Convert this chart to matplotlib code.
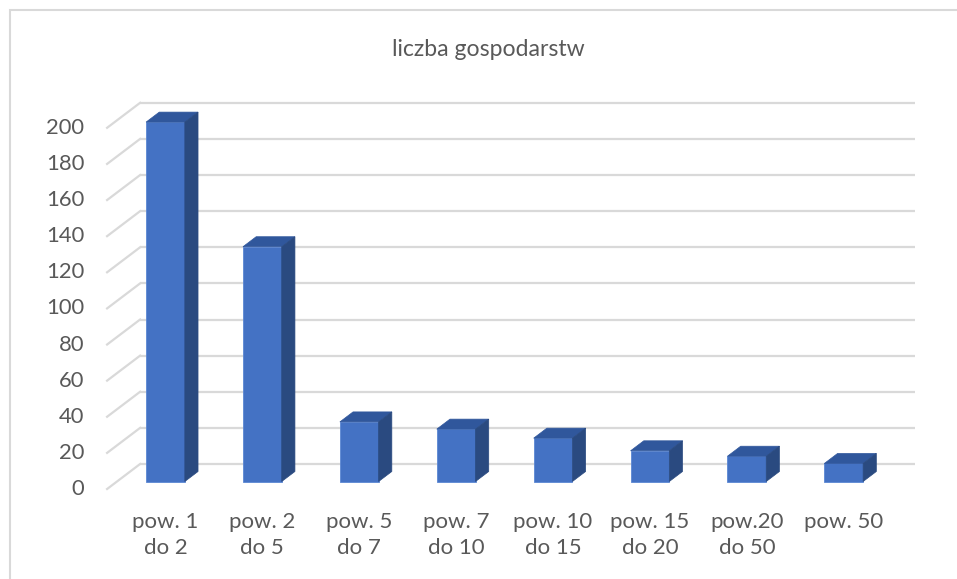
import matplotlib
matplotlib.use('Agg')
import matplotlib.pyplot as plt
from matplotlib.patches import Polygon, Rectangle
import numpy as np

# data
categories = ['pow. 1\ndo 2', 'pow. 2\ndo 5', 'pow. 5\ndo 7', 'pow. 7\ndo 10',
              'pow. 10\ndo 15', 'pow. 15\ndo 20', 'pow.20\ndo 50', 'pow. 50']
values = [199, 130, 33, 29, 24, 17, 14, 10]
yticks = [0, 20, 40, 60, 80, 100, 120, 140, 160, 180, 200]
title = 'liczba gospodarstw'

plt.rcParams['font.family'] = ['Lato', 'DejaVu Sans']

W, H = 957, 579
fig = plt.figure(figsize=(W / 100, H / 100), dpi=100)
ax = fig.add_axes([0, 0, 1, 1])

# pixel scale of the fake 3d chart (front plane of the bars)
px_cat = 96.9
px_val = 1.806
x0_px = 117.0      # left edge of first category on bar front plane
y0_px = 481.5      # value 0 on bar front plane (from top)
ax.set_xlim(-0.5 - x0_px / px_cat, -0.5 + (W - x0_px) / px_cat)
ax.set_ylim((y0_px - H) / px_val, y0_px / px_val)
ax.axis('off')

# depth of the floor, bars sit in the middle 40%
dx_full = 33 / px_cat
dy_full = 25 / px_val
dx_back, dy_back = 0.7 * dx_full, 0.7 * dy_full
dx_front, dy_front = -0.3 * dx_full, -0.3 * dy_full
bdx, bdy = 0.4 * dx_full, 0.4 * dy_full

n = len(categories)
grid_c = '#d9d9d9'
text_c = '#595959'

# back wall gridlines + side wall diagonals
for v in yticks:
    ax.plot([-0.5 + dx_back, n - 0.5 + dx_back], [v + dy_back, v + dy_back],
            color=grid_c, lw=1.6, zorder=1, solid_capstyle='butt')
    ax.plot([-0.5 + dx_front, -0.5 + dx_back], [v + dy_front, v + dy_back],
            color=grid_c, lw=1.6, zorder=1)
    ax.text(-0.5 + dx_front - 23 / px_cat, v + dy_front, str(v),
            ha='right', va='center', fontsize=15.8, color=text_c)

# bars
x = np.arange(n)
w = 0.4
ax.bar(x, values, width=w, color='#4472C4', edgecolor='#5b87d3', lw=0.6, zorder=3)
for xi, v in zip(x, values):
    l, r = xi - w / 2, xi + w / 2
    top = Polygon([[l, v], [r, v], [r + bdx, v + bdy], [l + bdx, v + bdy]],
                  closed=True, facecolor='#30579c', edgecolor='#30579c', lw=0.5, zorder=3)
    side = Polygon([[r, 0], [r + bdx, bdy], [r + bdx, v + bdy], [r, v]],
                   closed=True, facecolor='#2a4a80', edgecolor='#2a4a80', lw=0.5, zorder=3)
    ax.add_patch(top)
    ax.add_patch(side)

# category labels
for xi, lab in zip(x, categories):
    ax.text(xi, -17.0, lab, ha='center', va='top', fontsize=16, color=text_c,
            linespacing=1.38)

# title
fig.text(488 / W, 1 - 49 / H, title, ha='center', va='center', fontsize=16.6, color=text_c)

# chart frame
fig.patches.append(Rectangle((9.5 / W, -0.1), 1.1, 1 - 10 / H + 0.1,
                             transform=fig.transFigure, fill=False,
                             edgecolor='#d9d9d9', lw=1.5))

fig.savefig('out.png', dpi=100)
